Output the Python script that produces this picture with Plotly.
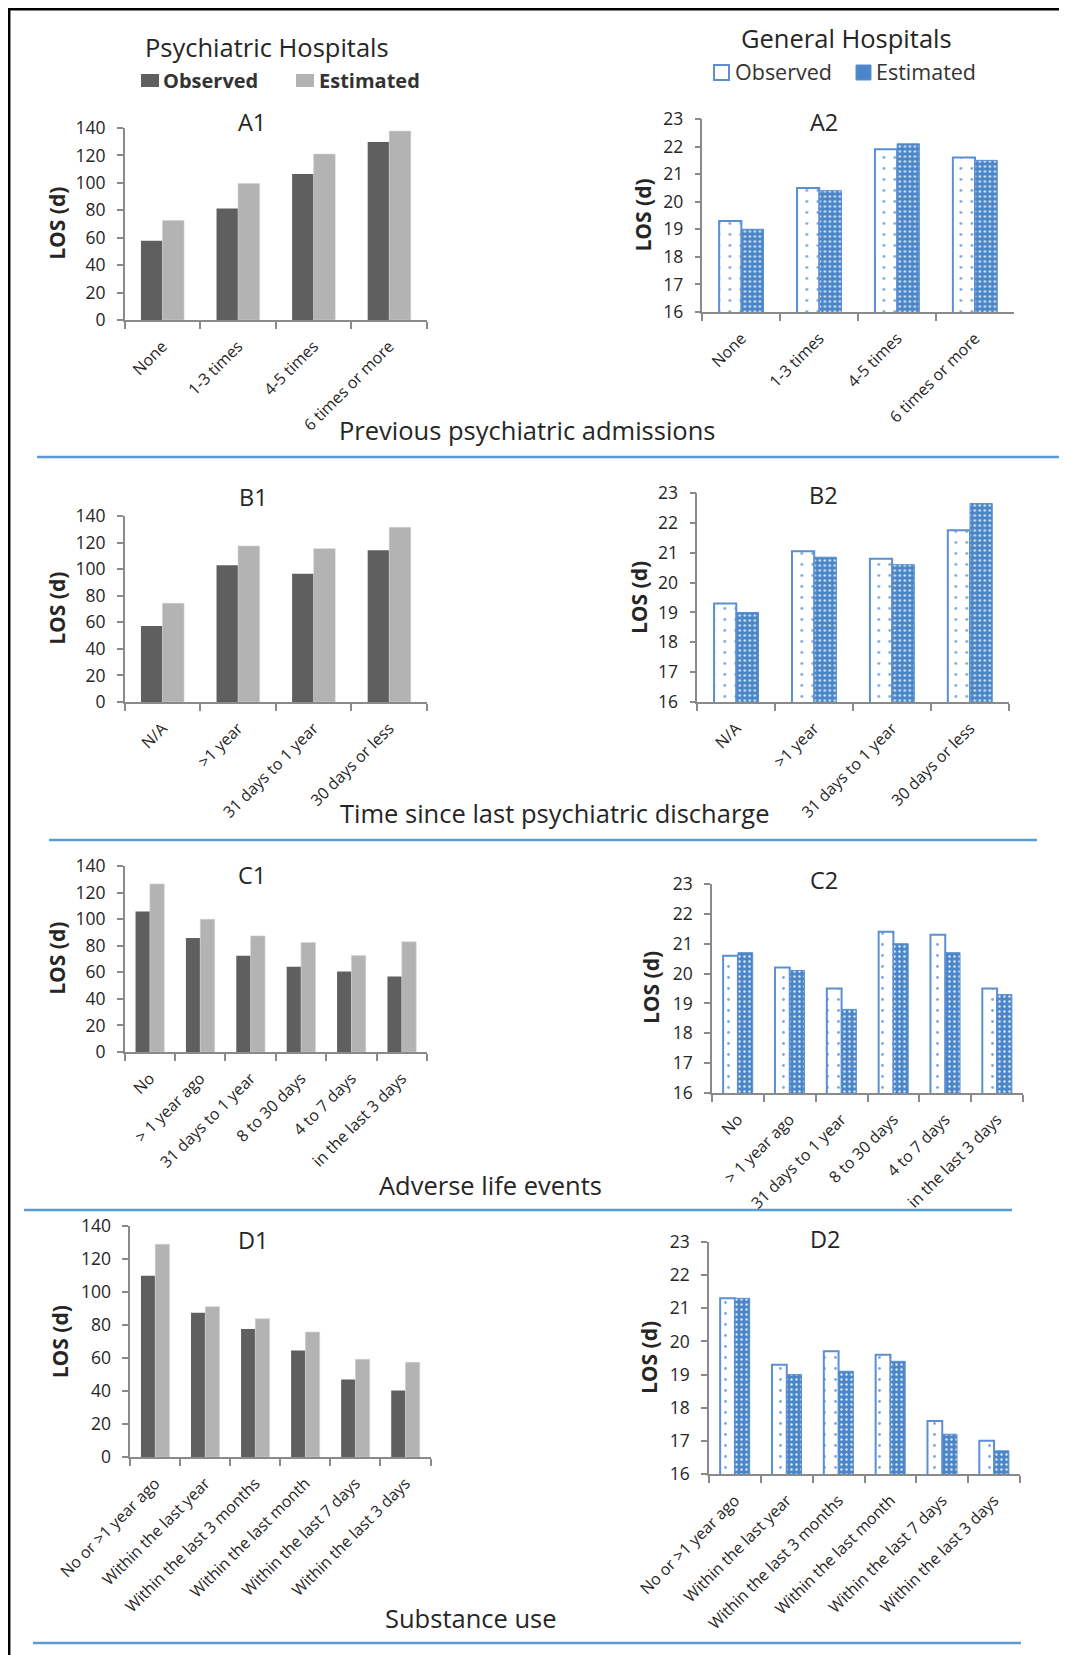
import plotly.graph_objects as go

# page body has an 8px margin: the figure is made 8px smaller and all
# reference pixel positions are shifted by that offset
W, H = 1067, 1655
OFF = 8
FW, FH = W - OFF, H - OFF

# ---------------- data ----------------
cats_prev_adm = ["None", "1-3 times", "4-5 times", "6 times or more"]
a1_observed = [57.7, 81.3, 106.5, 129.8]
a1_estimated = [72.5, 99.5, 121.0, 137.8]
a2_observed = [19.3, 20.5, 21.9, 21.6]
a2_estimated = [19.0, 20.4, 22.1, 21.5]

cats_discharge = ["N/A", ">1 year", "31 days to 1 year", "30 days or less"]
b1_observed = [57.2, 102.9, 96.6, 114.2]
b1_estimated = [74.3, 117.4, 115.4, 131.5]
b2_observed = [19.3, 21.05, 20.8, 21.75]
b2_estimated = [19.0, 20.85, 20.6, 22.65]

cats_adverse = ["No", "> 1 year ago", "31 days to 1 year", "8 to 30 days",
                "4 to 7 days", "in the last 3 days"]
c1_observed = [105.7, 85.9, 72.4, 64.1, 60.6, 56.9]
c1_estimated = [126.5, 99.9, 87.4, 82.4, 72.6, 82.9]
c2_observed = [20.6, 20.2, 19.5, 21.4, 21.3, 19.5]
c2_estimated = [20.7, 20.1, 18.8, 21.0, 20.7, 19.3]

cats_substance = ["No or >1 year ago", "Within the last year", "Within the last 3 months",
                  "Within the last month", "Within the last 7 days", "Within the last 3 days"]
d1_observed = [109.8, 87.4, 77.6, 64.5, 46.9, 40.3]
d1_estimated = [128.9, 91.1, 83.8, 75.7, 59.2, 57.4]
d2_observed = [21.3, 19.3, 19.7, 19.6, 17.6, 17.0]
d2_estimated = [21.3, 19.0, 19.1, 19.4, 17.2, 16.7]

psych_ticks = [0, 20, 40, 60, 80, 100, 120, 140]
general_ticks = [16, 17, 18, 19, 20, 21, 22, 23]

# ---------------- styling ----------------
FONT = "Open Sans"
TXT = "#262626"
AX = "#8a8a8a"
DARK = "#5f5f5f"
LIGHT = "#b3b3b3"
BLUE = "#4a86c8"
BLUE_EDGE = "#5b8fd2"
SEP = "#5b9bd5"

# panels: name, kind, categories, observed, estimated, x-domain px, y-domain px (top, bottom), title pos, ytitle pos
panels = [
    ("A1", "psych", cats_prev_adm, a1_observed, a1_estimated, (124.7, 427), (128, 320), (252.4, 122), (56.8, 223)),
    ("A2", "gen", cats_prev_adm, a2_observed, a2_estimated, (702.4, 1014), (119, 312), (824, 122), (642.5, 215)),
    ("B1", "psych", cats_discharge, b1_observed, b1_estimated, (124.7, 427), (516, 702), (253, 497), (56.8, 608)),
    ("B2", "gen", cats_discharge, b2_observed, b2_estimated, (697.3, 1009), (493, 702), (824, 495), (639, 598)),
    ("C1", "psych", cats_adverse, c1_observed, c1_estimated, (124.7, 427), (866, 1052), (252, 875), (56.8, 958)),
    ("C2", "gen", cats_adverse, c2_observed, c2_estimated, (712, 1023), (884, 1093), (824, 880), (651, 988)),
    ("D1", "psych", cats_substance, d1_observed, d1_estimated, (130.2, 430.5), (1226, 1457), (253, 1240), (60.3, 1342)),
    ("D2", "gen", cats_substance, d2_observed, d2_estimated, (709, 1020), (1242, 1474), (825, 1239), (649, 1358)),
]


def px(x):
    return (x - OFF) / FW


def py(y):
    return 1 - (y - OFF) / FH


fig = go.Figure()
annotations = []
shapes = []
layout_axes = {}

for i, (name, kind, cats, obs, est, xd, yd, tpos, ytpos) in enumerate(panels, start=1):
    xa = "x" if i == 1 else f"x{i}"
    ya = "y" if i == 1 else f"y{i}"
    if kind == "psych":
        fig.add_trace(go.Bar(x=cats, y=obs, name="Observed", xaxis=xa, yaxis=ya,
                             marker=dict(color=DARK, line=dict(width=0)), showlegend=False))
        fig.add_trace(go.Bar(x=cats, y=est, name="Estimated", xaxis=xa, yaxis=ya,
                             marker=dict(color=LIGHT, line=dict(color="#d0d0d0", width=0.6)),
                             showlegend=False))
        yr, ticks = [0, 140], psych_ticks
    else:
        fig.add_trace(go.Bar(x=cats, y=obs, name="Observed", xaxis=xa, yaxis=ya,
                             marker=dict(color="white", line=dict(color=BLUE_EDGE, width=2),
                                         pattern=dict(shape=".", fillmode="replace", bgcolor="white",
                                                      fgcolor="#7aa8de", size=11, solidity=0.05)),
                             showlegend=False))
        fig.add_trace(go.Bar(x=cats, y=est, name="Estimated", xaxis=xa, yaxis=ya,
                             marker=dict(color=BLUE, line=dict(color=BLUE_EDGE, width=1),
                                         pattern=dict(shape=".", fillmode="replace", bgcolor=BLUE,
                                                      fgcolor="#dce8f6", size=5, solidity=0.18)),
                             showlegend=False))
        yr, ticks = [16, 23], general_ticks

    xkey = "xaxis" if i == 1 else f"xaxis{i}"
    ykey = "yaxis" if i == 1 else f"yaxis{i}"
    layout_axes[xkey] = dict(
        domain=[px(xd[0]), px(xd[1])], anchor=ya, type="category",
        range=[-0.5, len(cats) - 0.5], automargin=False,
        showline=True, linecolor=AX, linewidth=1.5, mirror=False,
        ticks="outside", tickson="boundaries", ticklen=7, tickcolor=AX, tickwidth=1.5,
        tickangle=-45, tickfont=dict(family=FONT, size=16, color=TXT),
        ticklabelstandoff=9, showgrid=False, zeroline=False, fixedrange=True,
    )
    layout_axes[ykey] = dict(
        domain=[py(yd[1]), py(yd[0])], anchor=xa, range=yr, automargin=False,
        tickmode="array", tickvals=ticks,
        showline=True, linecolor=AX, linewidth=1.5,
        ticks="outside", ticklen=6, tickcolor=AX, tickwidth=1.5,
        tickfont=dict(family=FONT, size=17.5, color=TXT), ticklabelstandoff=8,
        showgrid=False, zeroline=False, fixedrange=True,
    )
    annotations.append(dict(text=name, x=px(tpos[0]), y=py(tpos[1]), xref="paper", yref="paper",
                            xanchor="center", yanchor="middle", showarrow=False,
                            font=dict(family=FONT, size=23.5, color=TXT)))
    annotations.append(dict(text="<b>LOS (d)</b>", x=px(ytpos[0]), y=py(ytpos[1]), xref="paper",
                            yref="paper", xanchor="center", yanchor="middle", showarrow=False,
                            textangle=-90, font=dict(family=FONT, size=21, color=TXT)))

# section labels
sections = [
    ("Previous psychiatric admissions", 527, 430),
    ("Time since last psychiatric discharge", 554, 813),
    ("Adverse life events", 490, 1185),
    ("Substance use", 471, 1618),
]
for text, x, y in sections:
    annotations.append(dict(text=text, x=px(x), y=py(y), xref="paper", yref="paper",
                            xanchor="center", yanchor="middle", showarrow=False,
                            font=dict(family=FONT, size=25.5, color=TXT)))

# group headers
annotations.append(dict(text="Psychiatric Hospitals", x=px(267), y=py(47), xref="paper", yref="paper",
                        xanchor="center", yanchor="middle", showarrow=False,
                        font=dict(family=FONT, size=25.5, color=TXT)))
annotations.append(dict(text="General Hospitals", x=px(846), y=py(38), xref="paper", yref="paper",
                        xanchor="center", yanchor="middle", showarrow=False,
                        font=dict(family=FONT, size=25.5, color=TXT)))

# legends (drawn manually)
def rect(x0, y0, x1, y1, fill, line_color=None, lw=0):
    shapes.append(dict(type="rect", xref="paper", yref="paper",
                       x0=px(x0), x1=px(x1), y0=py(y1), y1=py(y0),
                       fillcolor=fill, line=dict(color=line_color or fill, width=lw)))

rect(141, 74, 159, 87, DARK)
annotations.append(dict(text="<b>Observed</b>", x=px(161), y=py(80), xref="paper", yref="paper",
                        xanchor="left", yanchor="middle", showarrow=False,
                        font=dict(family=FONT, size=20, color="#333333")))
rect(296, 74, 314, 87, LIGHT)
annotations.append(dict(text="<b>Estimated</b>", x=px(317), y=py(80), xref="paper", yref="paper",
                        xanchor="left", yanchor="middle", showarrow=False,
                        font=dict(family=FONT, size=20, color="#333333")))

rect(714, 65, 729, 80, "white", BLUE_EDGE, 2)
annotations.append(dict(text="Observed", x=px(733), y=py(72), xref="paper", yref="paper",
                        xanchor="left", yanchor="middle", showarrow=False,
                        font=dict(family=FONT, size=21.5, color="#333333")))
rect(856, 65, 871, 80, BLUE, BLUE_EDGE, 1)
annotations.append(dict(text="Estimated", x=px(874), y=py(72), xref="paper", yref="paper",
                        xanchor="left", yanchor="middle", showarrow=False,
                        font=dict(family=FONT, size=21.5, color="#333333")))

# separators
for y, x0, x1 in [(457, 37, 1061), (840, 49, 1037), (1210, 24, 1012), (1643, 33, 1021)]:
    shapes.append(dict(type="line", xref="paper", yref="paper", x0=px(x0), x1=px(x1),
                       y0=py(y), y1=py(y), line=dict(color=SEP, width=2.5)))

# outer frame (left and top edges), as close to the page corner as the figure allows
shapes.append(dict(type="line", xref="paper", yref="paper", x0=px(9.2), x1=px(9.2),
                   y0=0, y1=py(8), line=dict(color="black", width=2.5)))
shapes.append(dict(type="line", xref="paper", yref="paper", x0=px(8), x1=1,
                   y0=py(9.2), y1=py(9.2), line=dict(color="black", width=2.5)))

fig.update_layout(
    width=FW, height=FH, autosize=False,
    margin=dict(l=0, r=0, t=0, b=0, pad=0),
    paper_bgcolor="white", plot_bgcolor="white",
    barmode="group", bargap=0.43, bargroupgap=0,
    showlegend=False,
    font=dict(family=FONT, color=TXT),
    annotations=annotations, shapes=shapes,
    **layout_axes,
)

fig.write_html("out.html")
